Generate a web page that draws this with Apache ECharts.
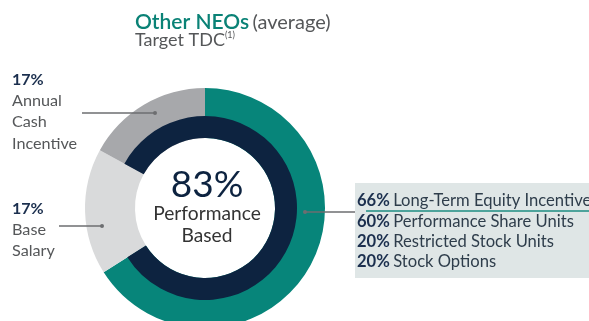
<!DOCTYPE html>
<html>
<head>
<meta charset="utf-8">
<script src="https://cdn.jsdelivr.net/npm/echarts@6/dist/echarts.min.js"></script>
<style>
  html, body { margin: 0; padding: 0; background: #ffffff; }
  #chart { width: 589px; height: 321px; }
</style>
</head>
<body>
<div id="chart"></div>
<script>
// Target TDC mix for the other NEOs, clockwise from 12 o'clock
const sliceNames = ['Long-Term Equity Incentive', 'Base Salary', 'Annual Cash Incentive'];
const sliceValues = [66, 17, 17];
const sliceColors = ['#07857a', '#d9dadb', '#a7a8ab'];

// Long-term equity incentive vehicle split
const ltiNames = ['Performance Share Units', 'Restricted Stock Units', 'Stock Options'];
const ltiValues = [60, 20, 20];

// Performance based = annual cash incentive + long-term equity incentive
const perfValue = sliceValues[0] + sliceValues[2];
const perfValues = [perfValue, 100 - perfValue];

const FONT = 'Lato, "Open Sans", sans-serif';
const NAVY = '#0d2340';
const GREY_TXT = '#555759';
const LINE = '#6d6e71';

const cx = 205, cy = 208;
// inner navy ring starts where the annual cash incentive slice begins
const ringStart = 90 - 360 * (sliceValues[0] + sliceValues[1]) / 100 + 360;

const chart = echarts.init(document.getElementById('chart'), null, { renderer: 'canvas' });

function leader(x1, x2, y) {
  return [
    { type: 'line', shape: { x1: x1, y1: y, x2: x2, y2: y }, style: { stroke: LINE, lineWidth: 1.5 }, z: 20 },
    { type: 'circle', shape: { cx: x2, cy: y, r: 2 }, style: { fill: LINE }, z: 20 }
  ];
}

function txt(x, y, text, size, color, weight, align) {
  return {
    type: 'text', x: x, y: y, z: 30,
    style: {
      text: text, fontFamily: FONT, fontSize: size, fill: color,
      fontWeight: weight || 'normal', align: align || 'left', verticalAlign: 'middle'
    }
  };
}

const graphics = [];

// title
graphics.push({
  type: 'text', x: 135, y: 22.5, z: 30,
  style: {
    text: '{a|Other NEOs} {b|(average)}',
    verticalAlign: 'middle',
    rich: {
      a: { fontFamily: FONT, fontSize: 21, fontWeight: 600, fill: '#0a8276' },
      b: { fontFamily: FONT, fontSize: 20, fill: GREY_TXT }
    }
  }
});
graphics.push({
  type: 'text', x: 135, y: 40, z: 30,
  style: {
    text: '{a|Target TDC}{s|(1)}',
    verticalAlign: 'middle',
    rich: {
      a: { fontFamily: FONT, fontSize: 18, fill: GREY_TXT },
      s: { fontFamily: FONT, fontSize: 9, fill: GREY_TXT, verticalAlign: 'top', padding: [0, 0, 8, 0] }
    }
  }
});

// annual cash incentive label
graphics.push(txt(12, 80, sliceValues[2] + '%', 16, '#1b2f4e', 'bold'));
graphics.push(txt(12, 101, 'Annual', 16.2, GREY_TXT));
graphics.push(txt(12, 122, 'Cash', 16.2, GREY_TXT));
graphics.push(txt(12, 143.5, 'Incentive', 16.2, GREY_TXT));
graphics.push(...leader(82, 155, 113));

// base salary label
graphics.push(txt(12, 209, sliceValues[1] + '%', 16, '#1b2f4e', 'bold'));
graphics.push(txt(12, 230, 'Base', 16.2, GREY_TXT));
graphics.push(txt(12, 251, 'Salary', 16.2, GREY_TXT));
graphics.push(...leader(59, 102, 226));

// long-term equity incentive callout box
graphics.push({ type: 'rect', shape: { x: 355, y: 183, width: 240, height: 95 }, style: { fill: '#dfe6e6' }, z: 10 });
graphics.push({ type: 'line', shape: { x1: 366, y1: 211, x2: 589, y2: 211 }, style: { stroke: '#1c8c82', lineWidth: 1.5 }, z: 20 });
graphics.push({ type: 'line', shape: { x1: 305, y1: 212, x2: 355, y2: 212 }, style: { stroke: LINE, lineWidth: 1.5 }, z: 20 });
graphics.push({ type: 'circle', shape: { cx: 305, cy: 212, r: 2 }, style: { fill: LINE }, z: 20 });

const boxRich = {
  p: { fontFamily: FONT, fontSize: 16.6, fontWeight: 'bold', fill: '#1b2f4e' },
  t: { fontFamily: FONT, fontSize: 16.6, fill: '#2e3d4b' }
};
const boxLines = [[sliceValues[0], sliceNames[0]]].concat(ltiNames.map((n, i) => [ltiValues[i], n]));
const boxY = [200.5, 222, 242, 261.5];
boxLines.forEach((l, i) => {
  graphics.push({
    type: 'text', x: 357, y: boxY[i], z: 30,
    style: { text: '{p|' + l[0] + '%} {t|' + l[1] + '}', verticalAlign: 'middle', rich: boxRich }
  });
});

// centre label
graphics.push(txt(cx + 2, 185, perfValue + '%', 37, NAVY, 'normal', 'center'));
graphics.push(txt(cx + 2, 214, 'Performance', 19.2, '#333333', 'normal', 'center'));
graphics.push(txt(cx + 2, 236, 'Based', 19.2, '#333333', 'normal', 'center'));

chart.setOption({
  animation: false,
  backgroundColor: '#ffffff',
  series: [
    {
      type: 'pie',
      silent: true,
      center: [cx, cy],
      radius: [70, 120],
      startAngle: 90,
      clockwise: true,
      label: { show: false },
      labelLine: { show: false },
      emphasis: { disabled: true },
      itemStyle: { borderWidth: 0 },
      data: sliceValues.map((v, i) => ({ name: sliceNames[i], value: v, itemStyle: { color: sliceColors[i] } })),
      z: 2
    },
    {
      type: 'pie',
      silent: true,
      center: [cx, cy],
      radius: [70, 92],
      startAngle: ringStart,
      clockwise: true,
      label: { show: false },
      labelLine: { show: false },
      emphasis: { disabled: true },
      itemStyle: { borderWidth: 0 },
      data: [
        { name: 'Performance Based', value: perfValues[0], itemStyle: { color: NAVY } },
        { name: 'Fixed', value: perfValues[1], itemStyle: { color: 'rgba(0,0,0,0)' } }
      ],
      z: 3
    }
  ],
  graphic: graphics
});
</script>
</body>
</html>
